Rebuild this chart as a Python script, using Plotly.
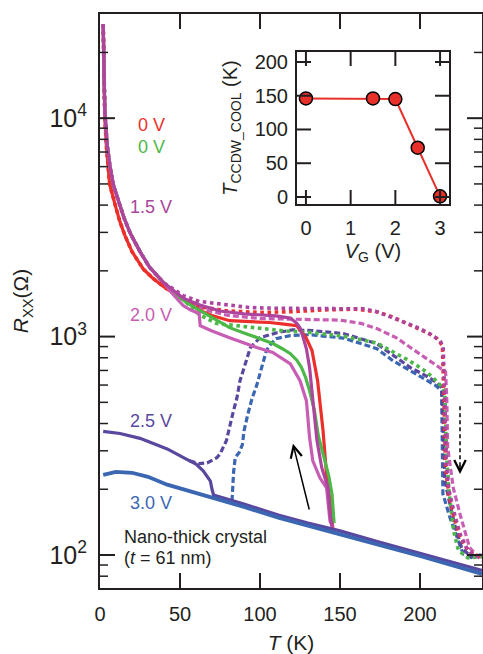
import math
import plotly.graph_objects as go

# ---------------- data ----------------
LOWT_T = [2, 3, 4.5, 6.3, 8.5, 11.5, 15, 19, 25, 31, 40]
LOWT_R = [27000, 10800, 7500, 5960, 4900, 4200, 3500, 2965, 2450, 2075, 1760]
RED_LOWT_T = [2, 3, 4, 6, 9.5, 12.5, 15.6, 20, 27, 33, 40]
RED_LOWT_R = [27000, 10000, 7400, 5000, 4000, 3350, 2900, 2450, 2040, 1850, 1690]
NORM_T = [150, 175, 200, 220, 238.75]
NORM_R = [130, 115.5, 103, 94, 86]

red_cool_T = RED_LOWT_T + [46, 52, 62.5, 70, 81, 95, 106, 115, 123, 128.75, 132.5, 136, 139.4, 141.9, 143.75, 145.5]
red_cool_R = RED_LOWT_R + [1575, 1480, 1316, 1250, 1183, 1170, 1160, 1140, 1122, 989, 863, 628, 371, 218, 177, 133]
red_warm_T = RED_LOWT_T + [46, 55, 65, 80, 100, 120, 140, 160, 173, 183, 193, 200, 206, 211, 214, 215, 216, 218, 221, 225, 229, 233, 238.75]
red_warm_R = RED_LOWT_R + [1575, 1440, 1360, 1310, 1290, 1300, 1325, 1335, 1300, 1230, 1140, 1085, 1030, 975, 910, 500, 250, 190, 150, 122, 108, 101, 98]

green_cool_T = LOWT_T + [50, 54, 62.5, 72, 81, 90, 98, 108, 114, 119, 123, 126, 128.5, 131, 134, 136.5, 140, 143, 145, 146.3]
green_cool_R = LOWT_R + [1510, 1432, 1316, 1200, 1099, 1040, 989, 930, 880, 835, 780, 720, 650, 565, 460, 350, 280, 230, 190, 140]
green_warm_T = LOWT_T + [52, 62, 73, 94, 114, 131, 152, 173, 194, 204, 210, 214, 215.5, 216.5, 218, 221, 224, 230, 238.75]
green_warm_R = LOWT_R + [1480, 1260, 1148, 1099, 1064, 1045, 1005, 935, 770, 690, 630, 585, 560, 300, 200, 129, 105, 97, 98]

mag_cool_T = LOWT_T + [52, 62, 75, 90, 110, 119, 123, 125, 127, 129, 131, 132.5, 134, 135.6, 138.6, 142.5, 143.75, 145]
mag_cool_R = LOWT_R + [1500, 1400, 1310, 1270, 1245, 1215, 1150, 1099, 990, 880, 720, 565, 440, 334, 251, 203, 154, 135]
mag_warm_T = LOWT_T + [52, 62, 73, 94, 110, 130, 150, 165, 173, 183, 192, 200, 206, 212.5, 214.5, 215.5, 216.5, 218, 221, 225, 229, 233, 238.75]
mag_warm_R = LOWT_R + [1541, 1450, 1416, 1358, 1348, 1344, 1344, 1340, 1300, 1222, 1150, 1088, 1030, 960, 900, 500, 260, 200, 160, 125, 108, 100, 97]

pink_cool_T = LOWT_T + [46, 52, 57, 62, 62.6, 70, 81, 98, 108, 119, 125, 129, 131, 133, 137.5, 141.6, 143.75, 145.5]
pink_cool_R = LOWT_R + [1550, 1387, 1320, 1277, 1122, 1060, 989, 891, 846, 750, 628, 509, 344, 270, 225, 203, 143, 134]
pink_warm_T = LOWT_T + [52, 65, 80, 100, 131, 150, 163, 173, 185, 194, 204, 212.5, 216, 216.8, 217.3, 220.8, 225, 231, 238.75]
pink_warm_R = LOWT_R + [1500, 1330, 1250, 1210, 1197, 1190, 1150, 1088, 990, 891, 792, 721, 690, 500, 310, 203, 154, 108, 94]

purple_cool_T = [2, 12.5, 25, 42, 56, 60, 64.5, 67, 69, 70, 71, 90, 112, 130, 150, 175, 200, 220, 238.75]
purple_cool_R = [368, 360, 342, 306, 270, 261, 243, 230, 218, 200, 188, 171, 152, 140, 129, 114.5, 102, 93, 85]
purple_warm_T = [56, 58, 62, 67, 73, 75, 79, 83, 85.6, 87.5, 89.6, 94, 100, 110.6, 120.6, 133, 152, 173, 194, 204, 210.6, 213.5, 214.5, 215.5, 218, 222, 226, 232, 238.75]
purple_warm_R = [270, 268, 262, 264, 279, 290, 334, 444, 525, 628, 698, 891, 989, 1042, 1075, 1064, 1033, 929, 721, 660, 615, 583, 400, 220, 180, 135, 108, 98, 100]

blue_cool_T = [2, 10, 20, 30, 42, 55, 69, 90, 112, 130, 150, 175, 200, 220, 238.75]
blue_cool_R = [233, 240, 238, 228, 210, 197, 185, 166, 148, 136, 125, 111, 99, 90, 82]
blue_warm_T = [82.5, 83.5, 84.5, 87, 89, 90, 92.5, 95, 98, 100, 102, 104, 107, 110, 119, 131, 152, 173, 183, 194, 204, 210, 213.5, 213.9, 214.3, 218.75, 223, 227, 233, 238.75]
blue_warm_R = [177, 240, 279, 295, 320, 370, 444, 520, 600, 680, 780, 863, 930, 979, 1011, 1020, 985, 881, 776, 698, 628, 596, 565, 350, 191, 148, 120, 101, 97, 101]

VG = [0, 1.5, 2.0, 2.5, 3.0]
TCCDW = [146, 146, 145, 73, 1]

X_TICKS = [0, 50, 100, 150, 200]
Y_MAJOR = [100, 1000, 10000]
Y_MINOR_MANTISSA = [2, 3, 4, 5, 6, 7, 8, 9]
INSET_X_TICKS = [0, 1, 2, 3]
INSET_Y_TICKS = [0, 50, 100, 150, 200]

LABELS = [
    ("0 V", "#ec2f2a", 32, 9300),
    ("0 V", "#4cb848", 32, 7360),
    ("1.5 V", "#a8449c", 32, 3910),
    ("2.0 V", "#c85db4", 32, 1250),
    ("2.5 V", "#5a479f", 32, 412),
    ("3.0 V", "#3b67b2", 32, 173),
]

RED = "#ec2f2a"
GREEN = "#4cb848"
MAG = "#ad459f"
PINK = "#c85db4"
PURPLE = "#5a479f"
BLUE = "#3b67b2"
INK = "#231f20"
FONT = "Liberation Sans, Arial, sans-serif"

W, H = 483, 654
ML, MR, MT, MB = 100, 1, 14, 66
PW = W - ML - MR
PH = H - MT - MB
X_RANGE = [0, PW / 1.6]
Y_RANGE = [1.849, 4.477]
INSET_X_RANGE = [-0.2, 3.2]
INSET_Y_RANGE = [-10.4, 214.8]
INSET_X_DOMAIN = [(297 - ML) / PW, (449 - ML) / PW]
INSET_Y_DOMAIN = [(H - MB - 204) / PH, (H - MB - 52) / PH]
INSET_W = (INSET_X_DOMAIN[1] - INSET_X_DOMAIN[0]) * PW
INSET_H = (INSET_Y_DOMAIN[1] - INSET_Y_DOMAIN[0]) * PH

fig = go.Figure()


def add(T, R, color, dash="solid", width=3.2):
    fig.add_trace(go.Scatter(x=T, y=R, mode="lines", showlegend=False, hoverinfo="skip",
                             line=dict(color=color, width=width, dash=dash),
                             xaxis="x", yaxis="y"))


DOT = "dot"
DASH = "6px,3px"
add(blue_warm_T, blue_warm_R, BLUE, DASH, 3.2)
add(purple_warm_T, purple_warm_R, PURPLE, DASH, 3.2)
add(green_warm_T, green_warm_R, GREEN, DOT, 3.6)
add(pink_warm_T, pink_warm_R, PINK, DASH, 3.2)
add(red_warm_T, red_warm_R, RED, DOT, 3.6)
add(mag_warm_T, mag_warm_R, MAG, DOT, 3.6)
add(red_cool_T, red_cool_R, RED)
add(green_cool_T, green_cool_R, GREEN)
add(pink_cool_T, pink_cool_R, PINK)
add(mag_cool_T, mag_cool_R, MAG)
add(purple_cool_T, purple_cool_R, PURPLE)
add(blue_cool_T, blue_cool_R, BLUE, "solid", 3.8)

ARROW_DASH_T = [225, 225]
ARROW_DASH_R = [480, 250]
fig.add_trace(go.Scatter(x=ARROW_DASH_T, y=ARROW_DASH_R, mode="lines", showlegend=False,
                         hoverinfo="skip", line=dict(color="black", width=1.5, dash="4px,3px"),
                         xaxis="x", yaxis="y"))

fig.add_trace(go.Scatter(x=VG, y=TCCDW, mode="lines+markers", showlegend=False, hoverinfo="skip",
                         line=dict(color="#e8302a", width=2),
                         marker=dict(size=13, color="#e8302a", line=dict(color="black", width=1.5)),
                         xaxis="x2", yaxis="y2"))


# ---- inward tick marks on all four sides, built from the tick value lists ----
def tick_trace(xs, ys, xaxis, yaxis, width):
    fig.add_trace(go.Scatter(x=xs, y=ys, mode="lines", showlegend=False, hoverinfo="skip",
                             cliponaxis=False, line=dict(color=INK, width=width),
                             xaxis=xaxis, yaxis=yaxis))


def x_ticks(vals, y_lo, y_hi, length_px, span_px, log=False):
    xs, ys = [], []
    d = (y_hi - y_lo) * length_px / span_px
    for v in vals:
        for a, b in ((y_lo, y_lo + d), (y_hi - d, y_hi)):
            xs += [v, v, None]
            ys += ([10 ** a, 10 ** b, None] if log else [a, b, None])
    return xs, ys


def y_ticks(vals, x_lo, x_hi, length_px, span_px):
    xs, ys = [], []
    d = (x_hi - x_lo) * length_px / span_px
    for v in vals:
        for a, b in ((x_lo, x_lo + d), (x_hi - d, x_hi)):
            xs += [a, b, None]
            ys += [v, v, None]
    return xs, ys


y_minor = [m * d for d in [10] + Y_MAJOR for m in Y_MINOR_MANTISSA
           if 10 ** Y_RANGE[0] < m * d < 10 ** Y_RANGE[1]]

tick_trace(*x_ticks(X_TICKS[1:], Y_RANGE[0], Y_RANGE[1], 15, PH, log=True), "x", "y", 2)
tick_trace(*y_ticks(Y_MAJOR, X_RANGE[0], X_RANGE[1], 15, PW), "x", "y", 2)
tick_trace(*y_ticks(y_minor, X_RANGE[0], X_RANGE[1], 8, PW), "x", "y", 1.5)
tick_trace(*x_ticks(INSET_X_TICKS, INSET_Y_RANGE[0], INSET_Y_RANGE[1], 14, INSET_H), "x2", "y2", 2)
tick_trace(*y_ticks(INSET_Y_TICKS, INSET_X_RANGE[0], INSET_X_RANGE[1], 14, INSET_W), "x2", "y2", 2)

axis_common = dict(showline=True, linewidth=2, linecolor=INK, mirror=True, ticks="",
                   showgrid=False, zeroline=False, automargin=False,
                   tickfont=dict(family=FONT, size=20, color=INK))

fig.update_layout(
    template="none",
    width=W, height=H,
    margin=dict(l=ML, r=MR, t=MT, b=MB),
    paper_bgcolor="white", plot_bgcolor="white",
    font=dict(family=FONT, size=20, color=INK),
    xaxis=dict(range=X_RANGE, tickmode="array", tickvals=X_TICKS, ticklabelstandoff=7,
               title=dict(text="<i>T</i> (K)", standoff=11, font=dict(size=21)),
               **axis_common),
    yaxis=dict(type="log", range=Y_RANGE, dtick=1, exponentformat="power",
               ticklabelstandoff=7,
               title=dict(text="<i>R</i><sub>XX</sub>(Ω)", standoff=15, font=dict(size=21)),
               **axis_common),
    xaxis2=dict(domain=INSET_X_DOMAIN, anchor="y2", range=INSET_X_RANGE,
                tickmode="array", tickvals=INSET_X_TICKS, ticklabelstandoff=5,
                title=dict(text="<i>V</i><sub>G</sub> (V)", standoff=6, font=dict(size=20)),
                **axis_common),
    yaxis2=dict(domain=INSET_Y_DOMAIN, anchor="x2", range=INSET_Y_RANGE,
                tickmode="array", tickvals=INSET_Y_TICKS, ticklabelstandoff=3,
                title=dict(text="<i>T</i><sub>CCDW_COOL</sub> (K)", standoff=12, font=dict(size=20)),
                **axis_common),
)

annotations = []
for text, color, t, r in LABELS:
    annotations.append(dict(x=t, y=math.log10(r), xref="x", yref="y", text=text, showarrow=False,
                            font=dict(family=FONT, size=18, color=color), xanchor="center", yanchor="middle"))
annotations.append(dict(x=13.8, y=math.log10(121), xref="x", yref="y", text="Nano-thick crystal",
                        showarrow=False, font=dict(family=FONT, size=18, color=INK), xanchor="left", yanchor="middle"))
annotations.append(dict(x=13.8, y=math.log10(97), xref="x", yref="y", text="(<i>t</i> = 61 nm)",
                        showarrow=False, font=dict(family=FONT, size=18, color=INK), xanchor="left", yanchor="middle"))
annotations.append(dict(x=120.6, y=math.log10(323), ax=131, ay=math.log10(159), xref="x", yref="y",
                        axref="x", ayref="y", text="", showarrow=True, arrowhead=5, arrowsize=1.5,
                        arrowwidth=1.5, arrowcolor="black"))
annotations.append(dict(x=225, y=math.log10(235), ax=0, ay=-10, xref="x", yref="y", text="",
                        showarrow=True, arrowhead=5, arrowsize=1.5, arrowwidth=1.5, arrowcolor="black"))
fig.update_layout(annotations=annotations)

fig.write_html("out.html", config={"displayModeBar": False},
               post_script="document.body.style.margin='0px';")
